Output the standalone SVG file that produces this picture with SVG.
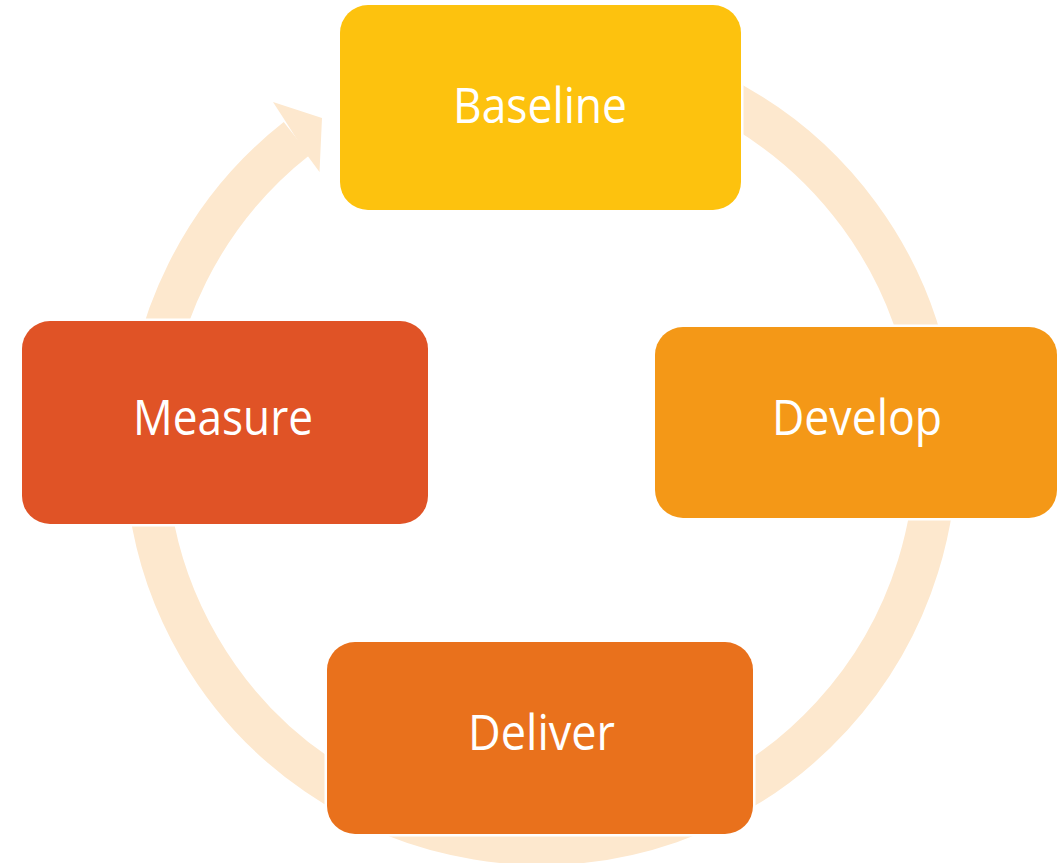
<svg xmlns="http://www.w3.org/2000/svg" width="1059" height="863" viewBox="0 0 1059 863">
<style>
.box{stroke:#fff;stroke-width:5;paint-order:stroke}
.lbl{font-family:"Open Sans","Noto Sans",sans-serif;font-size:50px;fill:#fff;text-anchor:middle}
.ring{fill:none;stroke:#FDE8CE;stroke-width:42}
</style>
<rect width="1059" height="863" fill="#fff"/>
<g id="connectors">
<path class="ring" d="M 296.7 138.5 A 395 395 0 1 0 541 54"/>
<polygon points="284,119 273,102 322,118 319.5,172 307,155" fill="#FDE8CE"/>
</g>
<g id="baseline">
<rect class="box" x="340" y="5" width="401" height="205" rx="28" fill="#FDC20E"/>
<text class="lbl" x="540" y="123" textLength="174" lengthAdjust="spacingAndGlyphs">Baseline</text>
</g>
<g id="develop">
<rect class="box" x="655" y="327" width="402" height="191" rx="28" fill="#F49817"/>
<text class="lbl" x="857" y="435" textLength="170" lengthAdjust="spacingAndGlyphs">Develop</text>
</g>
<g id="deliver">
<rect class="box" x="327" y="642" width="426" height="192" rx="28" fill="#E9711C"/>
<text class="lbl" x="541.5" y="750" textLength="147" lengthAdjust="spacingAndGlyphs">Deliver</text>
</g>
<g id="measure">
<rect class="box" x="22" y="321" width="406" height="203" rx="28" fill="#E05326"/>
<text class="lbl" x="223" y="435" textLength="180" lengthAdjust="spacingAndGlyphs">Measure</text>
</g>
</svg>
